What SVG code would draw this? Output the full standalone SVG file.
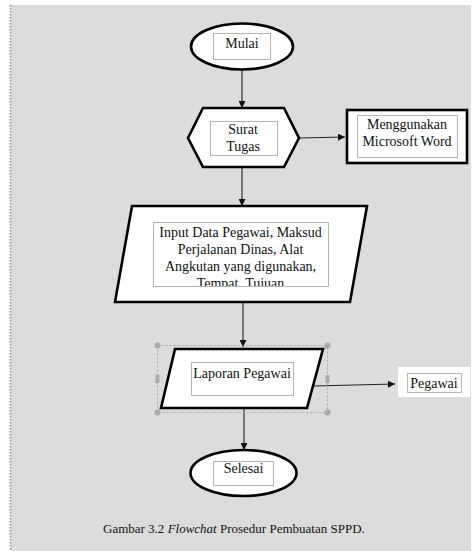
<svg xmlns="http://www.w3.org/2000/svg" width="473" height="551" viewBox="0 0 473 551">
<style>
.shape{fill:#fff;stroke:#000;stroke-width:2.6}
.tb{fill:none;stroke:#444;stroke-width:0.8;stroke-dasharray:1,1}
.t{font-family:"Liberation Serif","Times New Roman",serif;font-size:14px;fill:#111;text-anchor:middle}
.conn{stroke:#222;stroke-width:1.1;fill:none;marker-end:url(#ah)}
.sel{fill:none;stroke:#999;stroke-width:0.8;stroke-dasharray:2,2}
.h{fill:#aaa}
</style>
<defs>
<marker id="ah" viewBox="0 0 10 10" refX="10" refY="5" markerWidth="7" markerHeight="7" markerUnits="userSpaceOnUse" orient="auto">
<path d="M0,0 L10,5 L0,10 z" fill="#111"/>
</marker>
<clipPath id="clipInput"><rect x="153" y="222" width="175" height="64"/></clipPath>
</defs>
<rect x="0" y="0" width="473" height="551" fill="#fff"/>
<rect x="11" y="5" width="460" height="546" fill="#dcdcdc"/>
<line x1="10.5" y1="5" x2="10.5" y2="551" stroke="#888" stroke-width="1.5" stroke-dasharray="1.5,1.5"/>

<g id="connectors">
<line class="conn" x1="242" y1="70" x2="242" y2="108"/>
<line class="conn" x1="299" y1="138" x2="345" y2="137"/>
<line class="conn" x1="242" y1="168" x2="242" y2="206"/>
<line class="conn" x1="243" y1="303" x2="243" y2="347"/>
<line class="conn" x1="313" y1="386" x2="395" y2="384"/>
<line class="conn" x1="244" y1="409" x2="244" y2="450"/>
</g>

<g id="mulai">
<ellipse class="shape" cx="242" cy="46.5" rx="51" ry="23"/>
<rect class="tb" x="213.5" y="33.5" width="57" height="26"/>
<text class="t" x="242" y="48">Mulai</text>
</g>

<g id="surat-tugas">
<polygon class="shape" points="188,138 203,108 284,108 299,138 284,167 203,167"/>
<rect class="tb" x="210.5" y="121.5" width="67" height="34"/>
<text class="t" x="243" y="134">Surat</text>
<text class="t" x="243" y="151">Tugas</text>
</g>

<g id="microsoft-word">
<rect class="shape" x="347" y="110" width="120" height="53" stroke-width="3"/>
<rect class="tb" x="357.5" y="115.5" width="100" height="42"/>
<text class="t" x="407" y="129">Menggunakan</text>
<text class="t" x="407" y="146">Microsoft Word</text>
</g>

<g id="input-data">
<polygon class="shape" points="132,206 367,206 350,302 115,302"/>
<rect class="tb" x="153.5" y="222.5" width="175" height="64"/>
<g clip-path="url(#clipInput)">
<text class="t" x="240.5" y="237">Input Data Pegawai, Maksud</text>
<text class="t" x="240.5" y="254">Perjalanan Dinas, Alat</text>
<text class="t" x="240.5" y="271">Angkutan yang digunakan,</text>
<text class="t" x="240.5" y="288">Tempat, Tujuan</text>
</g>
</g>

<g id="laporan-pegawai">
<rect class="sel" x="157.5" y="345.5" width="170" height="67"/>
<polygon class="shape" points="175,349 323,349 307,408 161,408"/>
<rect class="tb" x="191.5" y="362.5" width="102" height="33"/>
<text class="t" x="242" y="378">Laporan Pegawai</text>
<circle class="h" cx="157.5" cy="345.5" r="3"/>
<circle class="h" cx="327.5" cy="345.5" r="3"/>
<circle class="h" cx="157.5" cy="412.5" r="3"/>
<circle class="h" cx="327.5" cy="412.5" r="3"/>
<rect class="h" x="155.5" y="375" width="4" height="8"/>
<rect class="h" x="325.5" y="375" width="4" height="8"/>
</g>

<g id="pegawai">
<rect x="398" y="367" width="72" height="30" fill="#fff"/>
<rect class="tb" x="407.5" y="373.5" width="54" height="19"/>
<text class="t" x="434" y="388">Pegawai</text>
</g>

<g id="selesai">
<ellipse class="shape" cx="243.5" cy="473" rx="53" ry="23"/>
<rect class="tb" x="213.5" y="461.5" width="60" height="24"/>
<text class="t" x="243.5" y="473">Selesai</text>
</g>

<text x="103" y="533" font-family="'Liberation Serif','Times New Roman',serif" font-size="13" fill="#111">Gambar 3.2 <tspan font-style="italic">Flowchat</tspan> Prosedur Pembuatan SPPD.</text>
</svg>
